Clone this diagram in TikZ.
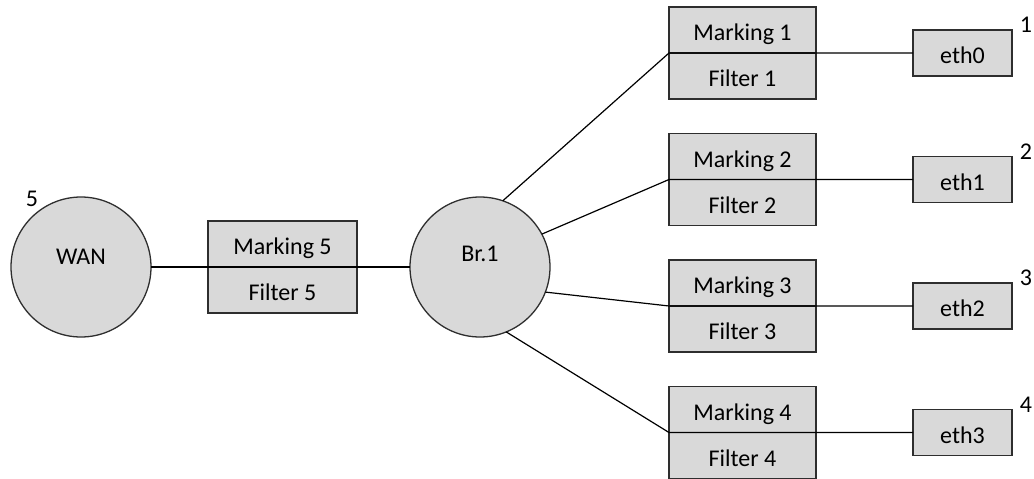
\documentclass[tikz,border=0pt]{standalone}
\usepackage{fontspec}
\setmainfont{Carlito}
\definecolor{boxfill}{HTML}{D9D9D9}
\definecolor{boxline}{HTML}{2E2E2E}
\begin{document}
\begin{tikzpicture}[x=1pt,y=-1pt,
  every node/.style={font=\fontsize{24}{28}\selectfont, text=black},
  cell/.style={draw=boxline, fill=boxfill, line width=1.6pt,
    minimum width=147pt, minimum height=46pt, inner sep=0pt, outer sep=0pt,
    text height=24pt, text depth=3pt},
  port/.style={cell, minimum width=99pt},
  hub/.style={circle, draw=boxline, fill=boxfill, line width=1.3pt,
    minimum size=140pt, inner sep=0pt, outer sep=0pt},
  link/.style={draw=black, line width=1.2pt},
  tag/.style={inner sep=0pt}]
\useasboundingbox (0,0) rectangle (1034,479);

% WAN side
\node[hub, label={[yshift=10pt]center:WAN}] (wan) at (81,267) {};
\node[tag] (n5) at (32,199) {5};
\node[cell, minimum width=149pt] (m5) at (282.5,244) {Marking 5};
\node[cell, minimum width=149pt] (f5) at (282.5,290) {Filter 5};

% bridge
\node[hub, label={[yshift=13pt]center:Br.1}] (br) at (480,267) {};

% marking / filter pairs and ports
\foreach \i/\e/\y in {1/0/53, 2/1/179.5, 3/2/306, 4/3/432.5} {
  \node[cell] (m\i) at (742.5,\y-23) {Marking \i};
  \node[cell] (f\i) at (742.5,\y+23) {Filter \i};
  \node[port] (e\e) at (962.5,\y) {eth\e};
  \node[tag] (n\i) at (1026,\y-28) {\i};
}

% connectors
\draw[link] (wan.east) -- (br.west);
\draw[link] (br.71) -- (m1.south west) -- (e0.west);
\draw[link] (br.28) -- (m2.south west) -- (e1.west);
\draw[link] (br.-21) -- (m3.south west) -- (e2.west);
\draw[link] (br.-68) -- (m4.south west) -- (e3.west);
\end{tikzpicture}
\end{document}
